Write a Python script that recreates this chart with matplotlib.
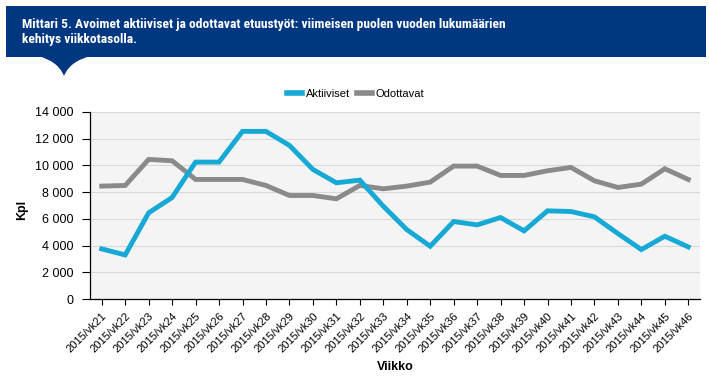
import matplotlib
matplotlib.use("Agg")
import matplotlib.pyplot as plt
from matplotlib.patches import Rectangle, PathPatch
from matplotlib.path import Path
from matplotlib.ticker import FuncFormatter

weeks = [f"2015/vk{w}" for w in range(21, 47)]
aktiiviset = [3750, 3300, 6450, 7600, 10250, 10250, 12550, 12550, 11500, 9700,
              8700, 8900, 6950, 5200, 3950, 5800, 5550, 6100, 5100, 6600,
              6550, 6150, 4900, 3700, 4700, 3900]
odottavat = [8450, 8500, 10450, 10350, 8950, 8950, 8950, 8500, 7750, 7750,
             7500, 8500, 8250, 8450, 8750, 9950, 9950, 9250, 9250, 9600,
             9850, 8850, 8350, 8600, 9750, 8950]
yticks = [0, 2000, 4000, 6000, 8000, 10000, 12000, 14000]
title = "Mittari 5. Avoimet aktiiviset ja odottavat etuustyöt: viimeisen puolen vuoden lukumäärien\nkehitys viikkotasolla."

W, H = 709, 379
plt.rcParams['font.family'] = ['Liberation Sans', 'DejaVu Sans']
fig = plt.figure(figsize=(W / 100, H / 100), dpi=100)

def fx(x):
    return x / W

def fy(y):
    return 1 - y / H

BLUE_BANNER = "#003781"
# banner
fig.patches.append(Rectangle((fx(6), fy(57)), fx(706) - fx(6), fy(6) - fy(57),
                             transform=fig.transFigure, facecolor=BLUE_BANNER,
                             edgecolor="none", zorder=0))
verts = [(fx(38), fy(56)), (fx(58), fy(61)), (fx(64), fy(76)),
         (fx(70), fy(61)), (fx(91), fy(56)), (fx(38), fy(56))]
codes = [Path.MOVETO, Path.CURVE3, Path.CURVE3, Path.CURVE3, Path.CURVE3, Path.CLOSEPOLY]
fig.patches.append(PathPatch(Path(verts, codes), transform=fig.transFigure,
                             facecolor=BLUE_BANNER, edgecolor="none", zorder=0))
fig.text(fx(22), fy(32), title, color="white", fontsize=9.7, fontweight="bold",
         va="center", ha="left", linespacing=1.25,
         family=['Roboto Condensed', 'Liberation Sans', 'DejaVu Sans'])

ax = fig.add_axes([fx(90), fy(299), fx(700) - fx(90), fy(112) - fy(299)])
ax.set_facecolor("#F4F4F4")
x = range(len(weeks))
l1, = ax.plot(x, aktiiviset, color="#16A9D5", lw=3.5, label="Aktiiviset", solid_joinstyle="miter", zorder=3)
l2, = ax.plot(x, odottavat, color="#8A8A8A", lw=3.5, label="Odottavat", solid_joinstyle="miter", zorder=2)
ax.set_xlim(-0.5, len(weeks) - 0.5)
ax.set_ylim(0, 14000)
ax.set_yticks(yticks)
ax.yaxis.set_major_formatter(FuncFormatter(lambda v, p: f"{int(v):,}".replace(",", " ")))
ax.grid(axis="y", color="#D9D9D9", lw=0.8)
ax.set_axisbelow(True)
ax.set_xticks(list(x))
ax.set_xticklabels(weeks, rotation=45, ha="right", rotation_mode="anchor", fontsize=8)
ax.tick_params(axis="y", labelsize=9, length=6, width=0.8, direction="out", pad=6)
ax.tick_params(axis="x", length=4.5, width=0.8, direction="out", pad=4)
for s in ["top", "right"]:
    ax.spines[s].set_visible(False)
for s in ["left", "bottom"]:
    ax.spines[s].set_color("black")
    ax.spines[s].set_linewidth(0.9)
ax.set_xlabel("Viikko", fontsize=9, fontweight="bold", labelpad=5)
fig.text(fx(22), fy(210), "Kpl", rotation=90, fontsize=9, fontweight="bold", ha="center", va="center")
leg = fig.legend(handles=[l1, l2], loc="center", bbox_to_anchor=(fx(356), fy(94)),
                 ncol=2, frameon=False, fontsize=8, handlelength=1.3, handletextpad=0.4,
                 columnspacing=0.6)
for h in leg.get_lines():
    h.set_linewidth(4)
fig.savefig("out.png", dpi=100)
